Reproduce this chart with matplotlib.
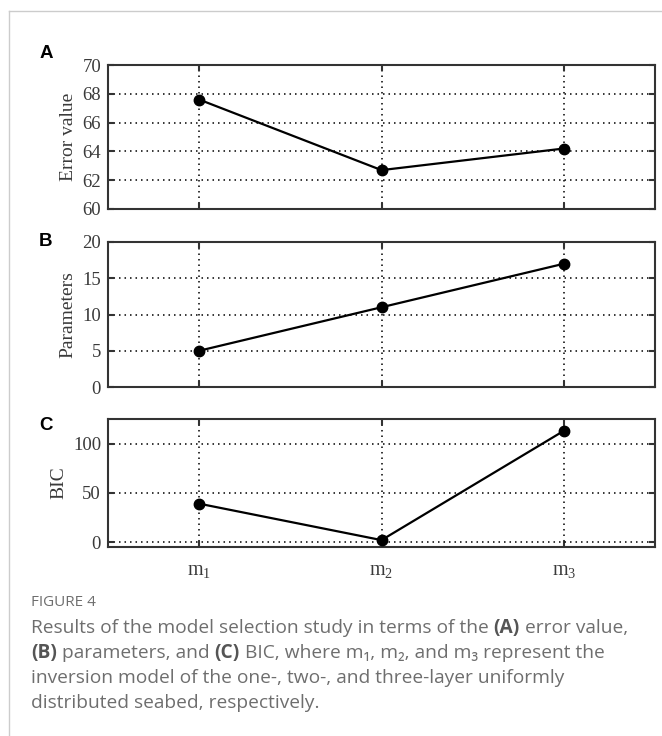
import matplotlib
matplotlib.use('Agg')
import matplotlib.pyplot as plt
from matplotlib.lines import Line2D

plt.rcParams['mathtext.fontset'] = 'custom'
plt.rcParams['mathtext.rm'] = 'Liberation Serif'
plt.rcParams['mathtext.it'] = 'Liberation Serif:italic'

models = ['$\\mathrm{m_1}$', '$\\mathrm{m_2}$', '$\\mathrm{m_3}$']
x_pos = [1, 2, 3]
error_value = [67.6, 62.7, 64.2]
parameters = [5, 11, 17]
bic = [39, 2, 113]

W, H = 662, 736
fig = plt.figure(figsize=(W / 100, H / 100), dpi=100)

serif = 'Liberation Serif'
spine_col = '#333333'


def px_axes(left, top, right, bottom):
    return fig.add_axes([left / W, 1 - bottom / H, (right - left) / W, (bottom - top) / H])


def style(ax, ylim, yticks, ylabel, show_x):
    ax.set_xlim(0.5, 3.5)
    ax.set_ylim(*ylim)
    ax.set_xticks(x_pos)
    ax.set_yticks(yticks)
    ax.set_yticklabels([str(t) for t in yticks], fontfamily=serif, fontsize=13.5, color='#3a3a3a')
    if show_x:
        ax.set_xticklabels(models, fontsize=14.5, color='#3a3a3a')
    else:
        ax.set_xticklabels([])
    ax.tick_params(direction='in', length=4, width=1.5, color=spine_col,
                   top=True, right=True, pad=5)
    ax.tick_params(axis='x', pad=10)
    ax.grid(True, color='black', linestyle=(0, (1, 2.6)), linewidth=1.1)
    for s in ax.spines.values():
        s.set_color(spine_col)
        s.set_linewidth(1.5)
    ax.set_ylabel(ylabel, fontfamily=serif, fontsize=14, color='#3a3a3a', labelpad=4)


def data_line(ax, y):
    ax.plot(x_pos, y, color='black', linewidth=1.6, marker='o', markersize=7.5, zorder=5)


axA = px_axes(108, 65, 655, 209)
style(axA, (60, 70), [60, 62, 64, 66, 68, 70], 'Error value', False)
data_line(axA, error_value)

axB = px_axes(108, 242, 655, 387)
style(axB, (0, 20), [0, 5, 10, 15, 20], 'Parameters', False)
data_line(axB, parameters)

axC = px_axes(108, 419, 655, 547)
style(axC, (-5, 125), [0, 50, 100], 'BIC', True)
data_line(axC, bic)

for lab, y in [('A', 53), ('B', 242), ('C', 425)]:
    fig.text(46 / W, 1 - y / H, lab, fontsize=13.5, fontweight='bold', family='Liberation Sans',
             ha='center', va='center', color='black')

# panel frame: top and left rules
fig.add_artist(Line2D([9 / W, 1], [1 - 10.5 / H, 1 - 10.5 / H], color='#cccccc', linewidth=1))
fig.add_artist(Line2D([9 / W, 9 / W], [0, 1 - 10.5 / H], color='#cccccc', linewidth=1))

cap_font = ['Open Sans', 'DejaVu Sans']
cap_col = '#6e6e6e'
fig.text(31 / W, 1 - 603 / H, 'FIGURE 4', fontsize=11, family=cap_font, color=cap_col, va='center')

caption = [
    [('Results of the model selection study in terms of the ', 'normal'), ('(A)', 'bold'),
     (' error value,', 'normal')],
    [('(B)', 'bold'), (' parameters, and ', 'normal'), ('(C)', 'bold'),
     (' BIC, where m\u2081, m\u2082, and m\u2083 represent the', 'normal')],
    [('inversion model of the one-, two-, and three-layer uniformly', 'normal')],
    [('distributed seabed, respectively.', 'normal')],
]
line_y = [628, 653, 678, 703]

renderer = fig.canvas.get_renderer()
for pieces, y in zip(caption, line_y):
    x = 31
    for txt, wt in pieces:
        t = fig.text(x / W, 1 - y / H, txt, fontsize=13.8, family=cap_font, fontweight=wt,
                     color=cap_col if wt == 'normal' else '#555555', va='center')
        bb = t.get_window_extent(renderer)
        x += bb.width

fig.savefig('out.png', dpi=100)
